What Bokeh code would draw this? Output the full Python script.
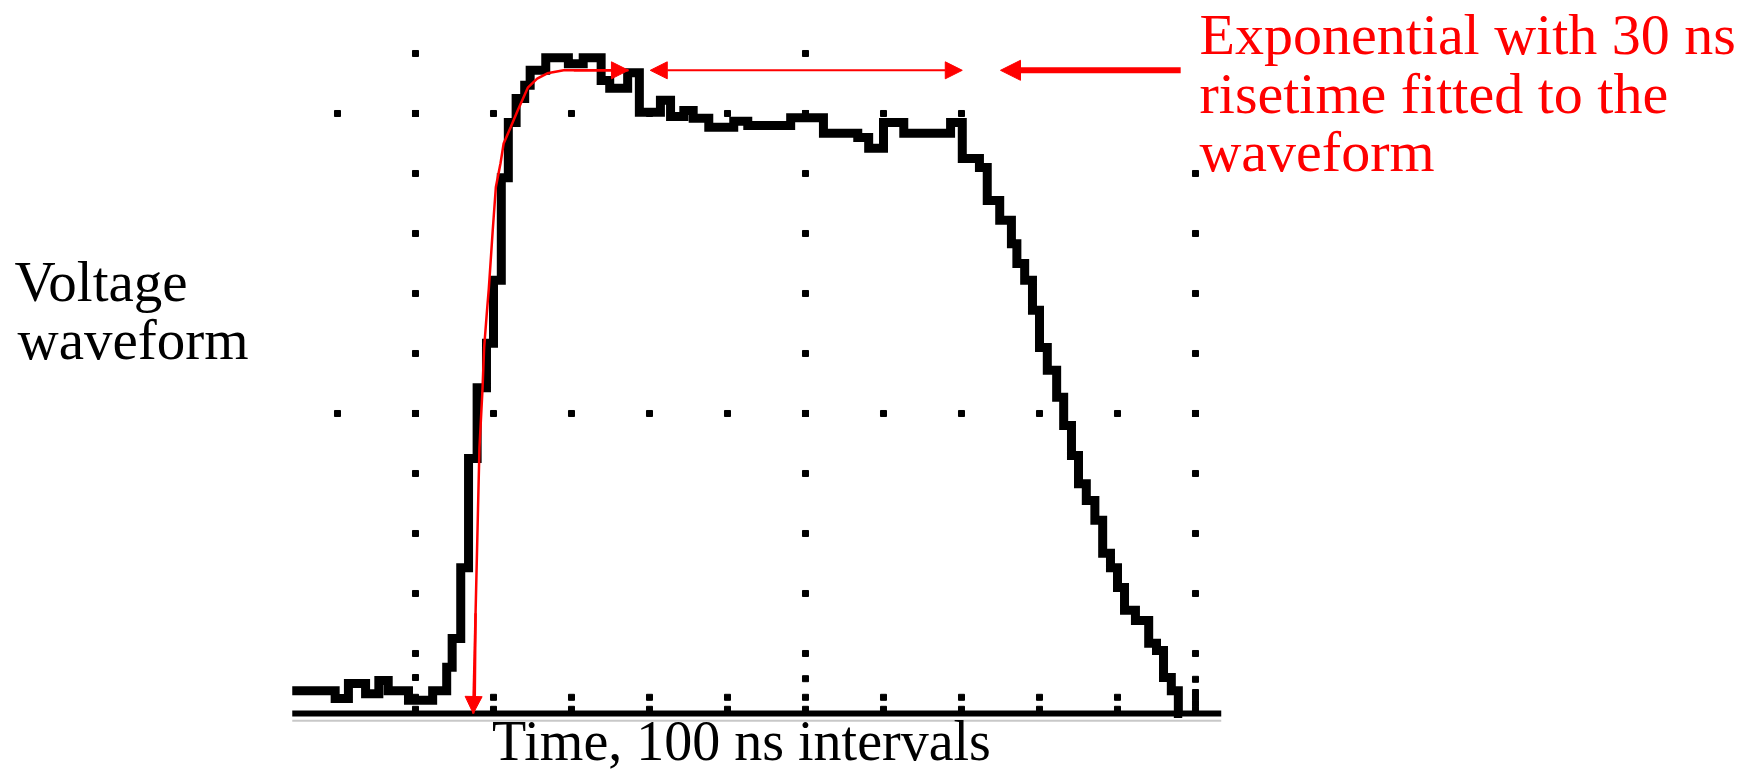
from bokeh.plotting import figure
from bokeh.models import Range1d, Label, Arrow, NormalHead
from bokeh.embed import file_html
from bokeh.resources import INLINE

# ---- data (time in ns, voltage in graticule divisions) ----
wave_t = [-158, -103, -86, -64, -47, -35, -9, 22, 40, 47, 58, 68, 79, 91, 100, 110, 119, 129, 140, 147,
          167, 196, 215, 238, 249, 272, 287, 314, 327, 344, 356, 376, 408, 426, 481, 523, 567, 581, 600, 626,
          686, 701, 723, 733, 749, 764, 771, 781, 791, 800, 810, 822, 831, 841, 850, 860, 871, 881, 891, 900,
          909, 923, 940, 950, 959, 969, 978, 983]
wave_v = [0.38, 0.25, 0.50, 0.33, 0.55, 0.38, 0.22, 0.38, 0.77, 1.25, 2.43, 4.25, 5.43, 6.17, 7.22, 8.93, 9.85, 10.25, 10.47, 10.72,
          10.93, 10.83, 10.93, 10.55, 10.42, 10.68, 10.02, 10.22, 9.95, 10.05, 9.92, 9.77, 9.87, 9.80, 9.93, 9.67, 9.60, 9.42, 9.85, 9.67,
          9.85, 9.25, 9.10, 8.55, 8.22, 7.83, 7.50, 7.22, 6.72, 6.10, 5.72, 5.27, 4.80, 4.30, 3.83, 3.55, 3.22, 2.67, 2.43, 2.10,
          1.72, 1.55, 1.17, 1.05, 0.60, 0.38, 0.0, 0.0]

fit_t = [74, 76, 77, 80, 82, 86, 88, 92, 94, 99, 103, 109, 113, 122, 131, 144, 156, 169, 190, 203, 254, 273]
fit_v = [0.0, 0.30, 1.67, 3.33, 4.43, 5.43, 6.10, 6.77, 7.08, 8.05, 8.77, 9.17, 9.50, 9.77, 10.05, 10.43, 10.58,
         10.67, 10.72, 10.72, 10.72, 10.72]

plateau_t = [301, 701]          # double-headed arrow over the flat top
plateau_v = 10.72
callout_t = [981, 750]          # thick arrow from the note
callout_v = 10.72

axis_t = [-158, 1033]           # extent of the time axis

time_ticks = [-100, 0, 100, 200, 300, 400, 500, 600, 700, 800, 900, 1000]
volt_ticks = [1, 2, 3, 4, 5, 6, 7, 8, 9, 10, 11]
major_t = [0, 500, 1000]
major_top = [11, 11, 9]         # highest dotted level on each vertical line
row10_last = 700                # last visible dot on the upper horizontal line
bottom_marks_v = [0.27, 0.07]
extra_marks_t = [0, 500, 1000, 1000, 1000]
extra_marks_v = [0.60, 0.58, 0.57, 0.35, 0.17]

y_label_lines = ["Voltage", "waveform"]
x_label = "Time, 100 ns intervals"
note_lines = ["Exponential with 30 ns", "risetime fitted to the", "waveform"]

# ---- graticule dots ----
dot_t, dot_v = [], []
for t, top in zip(major_t, major_top):
    for v in volt_ticks:
        if v <= top:
            dot_t.append(t); dot_v.append(v)
for t in time_ticks:
    dot_t.append(t); dot_v.append(5)
    if t <= row10_last:
        dot_t.append(t); dot_v.append(10)
    if t >= 0:
        for bv in bottom_marks_v:
            dot_t.append(t); dot_v.append(bv)
dot_t += extra_marks_t
dot_v += extra_marks_v

# ---- figure: frame covers the whole page ----
PX0, PX1 = -532.05, 1724.36
PY0, PY1 = -1.0, 11.8833
p = figure(width=1760, height=773, x_range=Range1d(PX0, PX1), y_range=Range1d(PY0, PY1),
           output_backend="svg", toolbar_location=None, x_axis_type=None, y_axis_type=None,
           min_border=0, outline_line_color=None,
           background_fill_color="white", border_fill_color="white")

p.scatter(dot_t, dot_v, marker="square", size=6, color="black")
p.line(axis_t, [0, 0], line_width=6, color="black")
p.line(axis_t, [-0.12, -0.12], line_width=2, color="#c8c8c8")
p.step(wave_t, wave_v, mode="after", line_width=9, color="black", line_join="miter")

RED = "#ff0000"
p.line(fit_t, fit_v, line_width=2.5, color=RED)
p.add_layout(Arrow(x_start=fit_t[2], y_start=fit_v[2], x_end=fit_t[0], y_end=fit_v[0],
                   line_color=RED, line_width=2.5,
                   end=NormalHead(size=17, fill_color=RED, line_color=RED)))
p.add_layout(Arrow(x_start=fit_t[-3], y_start=fit_v[-3], x_end=fit_t[-1], y_end=fit_v[-1],
                   line_color=RED, line_width=2.5,
                   end=NormalHead(size=17, fill_color=RED, line_color=RED)))
p.add_layout(Arrow(x_start=plateau_t[0], y_start=plateau_v, x_end=plateau_t[1], y_end=plateau_v,
                   line_color=RED, line_width=2,
                   start=NormalHead(size=17, fill_color=RED, line_color=RED),
                   end=NormalHead(size=17, fill_color=RED, line_color=RED)))
p.add_layout(Arrow(x_start=callout_t[0], y_start=callout_v, x_end=callout_t[1], y_end=callout_v,
                   line_color=RED, line_width=6,
                   end=NormalHead(size=20, fill_color=RED, line_color=RED)))

FONT = "Liberation Serif"
# left label
for txt, (lx, ly) in zip(y_label_lines, [(-514.1, 7.20), (-510.3, 6.24)]):
    p.add_layout(Label(x=lx, y=ly, text=txt, text_font=FONT, text_font_size="57px",
                       text_color="black", text_align="left", text_baseline="alphabetic"))
# bottom label
p.add_layout(Label(x=417.9, y=-0.46, text=x_label, text_font=FONT, text_font_size="56px",
                   text_color="black", text_align="center", text_baseline="alphabetic"))
# red note
for txt, ly in zip(note_lines, [11.31, 10.34, 9.37]):
    p.add_layout(Label(x=1005.1, y=ly, text=txt, text_font=FONT, text_font_size="58px",
                       text_color=RED, text_align="left", text_baseline="alphabetic"))

open("out.html", "w").write(file_html(p, INLINE))
